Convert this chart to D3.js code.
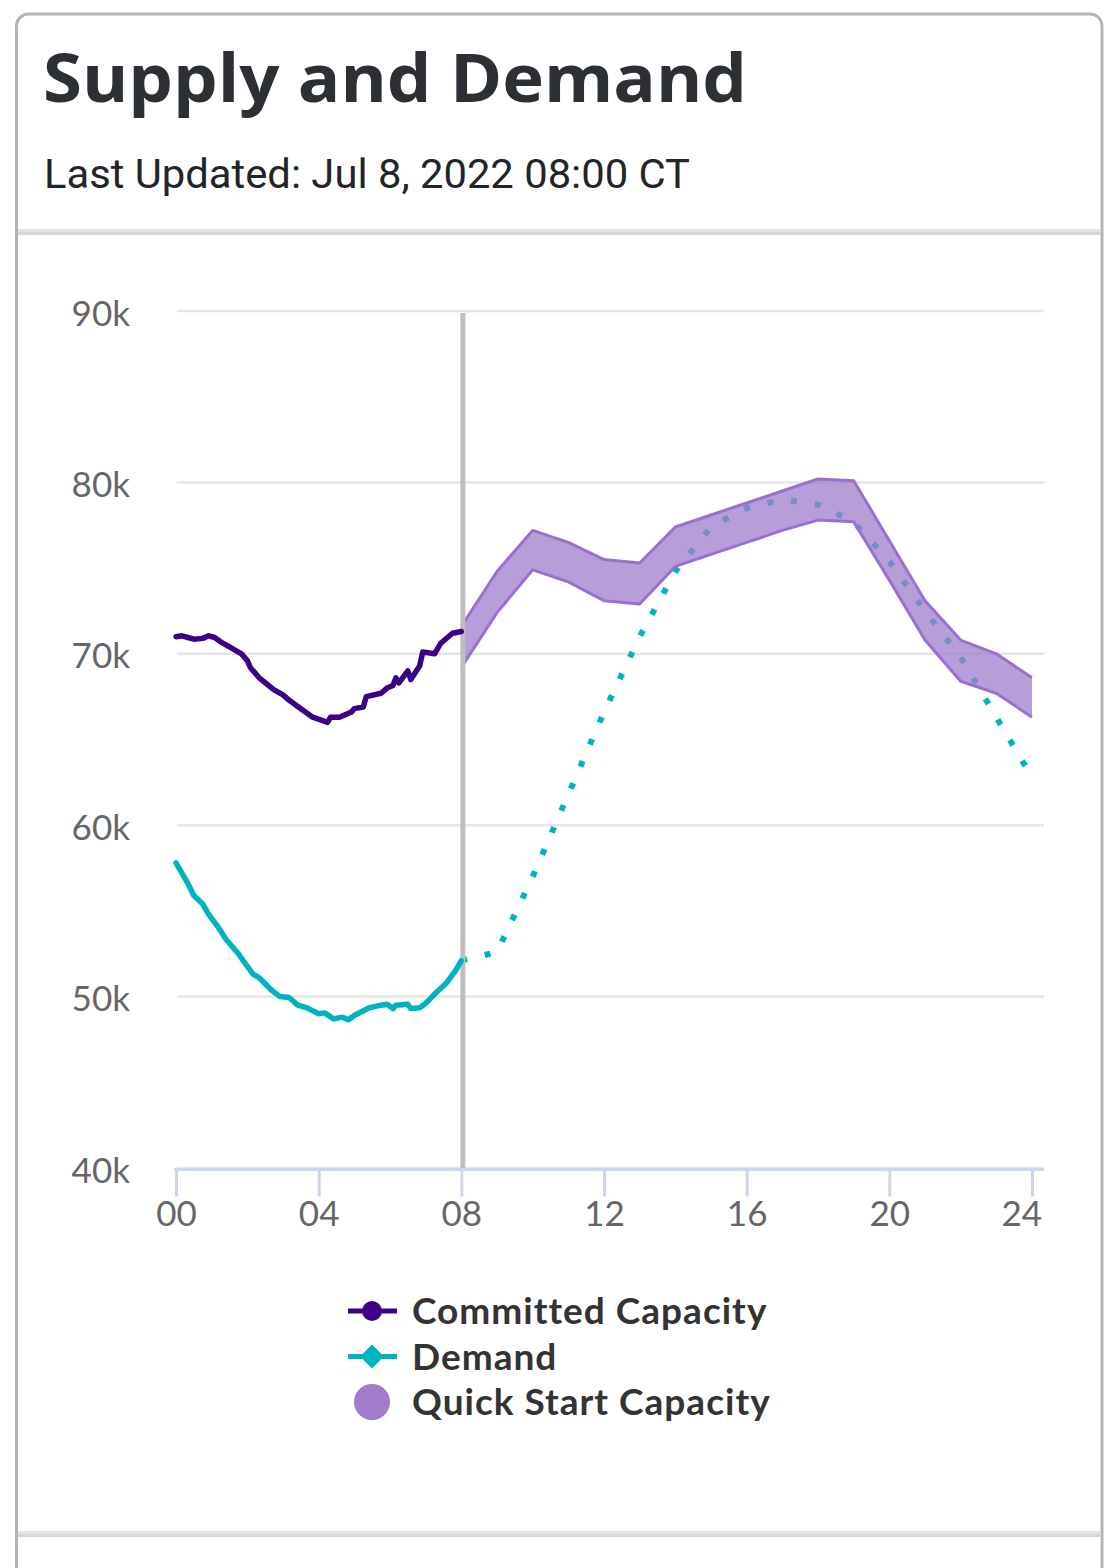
<!DOCTYPE html>
<html>
<head>
<meta charset="utf-8">
<script src="https://cdn.jsdelivr.net/npm/d3@7"></script>
<style>
	html, body { margin: 0; padding: 0; background: #fff; }
	svg { display: block; }
</style>
</head>
<body>
<svg id="card" width="1116" height="1568"></svg>
<script>
"use strict";

//actual values, 5 minute data up to the update time
const committedTimes = ["00:00","00:10","00:20","00:30","00:45","00:55","01:05","01:15","01:30","01:50","02:00","02:05","02:20","02:45","03:00","03:10","03:30","03:50","04:15","04:20","04:35","04:55","05:00","05:15","05:20","05:45","05:55","06:05","06:10","06:15","06:30","06:35","06:50","06:55","07:15","07:25","07:45","08:00"];
const committedValues = [71000,71050,70950,70850,70900,71050,70950,70700,70400,70000,69600,69200,68600,67900,67600,67300,66800,66300,66000,66300,66300,66600,66800,66900,67500,67700,68000,68150,68600,68300,69000,68500,69300,70100,70000,70600,71200,71300];

const demandTimes = ["00:00","00:10","00:20","00:30","00:45","00:55","01:10","01:25","01:45","01:55","02:10","02:20","02:40","02:55","03:10","03:25","03:40","04:00","04:10","04:25","04:40","04:50","05:00","05:25","05:45","05:55","06:05","06:10","06:30","06:35","06:50","07:00","07:15","07:35","07:50","08:00"];
const demandValues = [57800,57200,56600,55900,55400,54800,54100,53300,52500,52000,51300,51100,50400,50000,49950,49500,49350,49000,49050,48700,48800,48650,48900,49350,49500,49550,49300,49500,49550,49300,49350,49600,50150,50800,51500,52100];

//hourly forecast
const forecastTimes = ["08:00","09:00","10:00","11:00","12:00","13:00","14:00","15:00","16:00","17:00","18:00","19:00","20:00","21:00","22:00","23:00","24:00"];
const demandForecast = [52100,52600,57000,61800,66600,71000,74800,77400,78500,79000,78700,77700,75400,72500,69800,66300,62800];
const committedForecast = [69200,72400,74900,74200,73100,72900,75100,75800,76500,77200,77800,77700,74300,70800,68400,67700,66300];
const quickStartUpper = [71600,74800,77200,76500,75500,75300,77400,78100,78800,79500,80200,80100,76600,73100,70800,70000,68600];

const nowTime = "08:00";
const xTicks = [0, 4, 8, 12, 16, 20, 24];
const yTicks = [40000, 50000, 60000, 70000, 80000, 90000];
const legendNames = ["Committed Capacity", "Demand", "Quick Start Capacity"];

(function()
{
	function hours(t)
	{
		let p = t.split(":");
		return +p[0] + p[1] / 60;
	}

	let svg = d3.select("svg#card");

	//card frame and header
	svg.append("rect")
		.attr("x", 16.5).attr("y", 14)
		.attr("width", 1085.5).attr("height", 1640)
		.attr("rx", 12)
		.attr("fill", "#fff")
		.attr("stroke", "#b1b4b9")
		.attr("stroke-width", 3);

	for (let top of [229, 1531])
	{
		svg.append("rect").attr("x", 18).attr("y", top).attr("width", 1082.5).attr("height", 3).attr("fill", "#e4e4e4");
		svg.append("rect").attr("x", 18).attr("y", top + 3).attr("width", 1082.5).attr("height", 3).attr("fill", "#d3d6da");
	}

	let title = svg.append("text")
		.attr("x", 43).attr("y", 102)
		.attr("font-family", "'Open Sans', sans-serif")
		.attr("font-weight", 700)
		.attr("font-size", 66)
		.attr("fill", "#2c3035")
		.text("Supply and Demand");
	if (Math.abs(title.node().getComputedTextLength() - 704) > 4)
		title.attr("textLength", 704).attr("lengthAdjust", "spacingAndGlyphs");

	let sub = svg.append("text")
		.attr("x", 44).attr("y", 188)
		.attr("font-family", "Roboto, sans-serif")
		.attr("font-size", 41)
		.attr("fill", "#212529")
		.text("Last Updated: Jul 8, 2022 08:00 CT");
	if (Math.abs(sub.node().getComputedTextLength() - 646) > 4)
		sub.attr("textLength", 646).attr("lengthAdjust", "spacingAndGlyphs");

	//scales
	let x = d3.scaleLinear().domain([0, 24]).range([176, 1032]);
	let y = d3.scaleLinear().domain([40000, 90000]).range([1168, 311]);
	let plotRight = 1044;

	//grid
	svg.append("g")
		.attr("stroke", "#e6e6e6")
		.attr("stroke-width", 2.5)
		.selectAll("line")
		.data(yTicks)
		.join("line")
		.attr("x1", 177).attr("x2", plotRight)
		.attr("y1", d => y(d)).attr("y2", d => y(d));

	//y labels
	let yAxis = svg.append("g")
		.attr("transform", "translate(176,0)")
		.call(d3.axisLeft(y).tickValues(yTicks).tickFormat(d3.format("~s")).tickSize(0).tickPadding(46));
	yAxis.select(".domain").remove();
	yAxis.selectAll("text")
		.attr("dy", null)
		.attr("y", 14)
		.attr("font-family", "Lato, sans-serif")
		.attr("font-size", 35)
		.attr("fill", "#666666");

	//x axis
	let xAxis = svg.append("g")
		.attr("transform", "translate(0,1169.5)")
		.call(d3.axisBottom(x).tickValues(xTicks).tickFormat(d3.format("02d")).tickSize(27).tickSizeOuter(0));
	xAxis.select(".domain").remove();
	xAxis.append("line")
		.attr("x1", 174).attr("x2", plotRight)
		.attr("stroke", "#ccd6eb")
		.attr("stroke-width", 3);
	xAxis.selectAll(".tick line")
		.attr("stroke", "#ccd6eb")
		.attr("stroke-width", 3);
	xAxis.selectAll(".tick text")
		.attr("dy", null)
		.attr("y", 56)
		.attr("font-family", "Lato, sans-serif")
		.attr("font-size", 35)
		.attr("fill", "#666666");
	//keep the last label inside the chart like the original
	xAxis.selectAll(".tick text").each(function()
	{
		let b = this.getBBox();
		let tx = +this.parentNode.getAttribute("transform").match(/translate\(([-\d.]+)/)[1];
		let over = tx + b.x + b.width - (plotRight - 2);
		if (over > 0) d3.select(this).attr("x", -over);
	});

	let path_func = d3.line()
		.x(d => x(d[0]))
		.y(d => y(d[1]));

	let plot = svg.append("g")
		.attr("fill", "none")
		.attr("stroke-linejoin", "round");

	//demand forecast, dotted
	plot.append("path")
		.attr("stroke", "#00b3c1")
		.attr("stroke-width", 6)
		.attr("stroke-dasharray", "6,18")
		.attr("d", path_func(forecastTimes.map((t, i) => [hours(t), demandForecast[i]])));

	//quick start band
	let band = forecastTimes.map((t, i) => [hours(t), committedForecast[i], quickStartUpper[i]]);
	plot.append("path")
		.attr("fill", "#a07dcb")
		.attr("fill-opacity", 0.75)
		.attr("d", d3.area()
			.x(d => x(d[0]))
			.y0(d => y(d[1]))
			.y1(d => y(d[2]))(band));
	for (let k of [1, 2])
	{
		plot.append("path")
			.attr("stroke", "#9b6fcf")
			.attr("stroke-width", 3)
			.attr("d", path_func(band.map(d => [d[0], d[k]])));
	}

	//now line
	svg.append("line")
		.attr("x1", x(hours(nowTime)) + 1.5).attr("x2", x(hours(nowTime)) + 1.5)
		.attr("y1", y(90000) + 2).attr("y2", y(40000))
		.attr("stroke", "#bebebe")
		.attr("stroke-width", 5);

	//actual lines
	let lines = svg.append("g")
		.attr("fill", "none")
		.attr("stroke-width", 5.5)
		.attr("stroke-linejoin", "round")
		.attr("stroke-linecap", "round");
	lines.append("path")
		.attr("stroke", "#00b3c1")
		.attr("d", path_func(demandTimes.map((t, i) => [hours(t), demandValues[i]])));
	lines.append("path")
		.attr("stroke", "#3b0087")
		.attr("d", path_func(committedTimes.map((t, i) => [hours(t), committedValues[i]])));

	//legend
	let legendColors = ["#3b0087", "#00b3c1", "#a27ccb"];
	let legend = svg.append("g");
	legendNames.forEach(function(name, i)
	{
		let cy = 1311 + i * 45.5;
		let item = legend.append("g").attr("transform", "translate(372," + cy + ")");
		if (i < 2)
		{
			item.append("line")
				.attr("x1", -24).attr("x2", 25)
				.attr("stroke", legendColors[i])
				.attr("stroke-width", 5);
		}
		if (i === 0)
			item.append("circle").attr("r", 10).attr("fill", legendColors[i]);
		else if (i === 1)
			item.append("path").attr("d", "M0,-12L12,0L0,12L-12,0Z").attr("fill", legendColors[i]);
		else
			item.append("circle").attr("r", 18).attr("fill", legendColors[i]);
		item.append("text")
			.attr("x", 40).attr("y", 13)
			.attr("font-family", "Lato, sans-serif")
			.attr("font-weight", 700)
			.attr("font-size", 37)
			.attr("letter-spacing", 1)
			.attr("fill", "#333333")
			.text(name);
	});
})();
</script>
</body>
</html>
